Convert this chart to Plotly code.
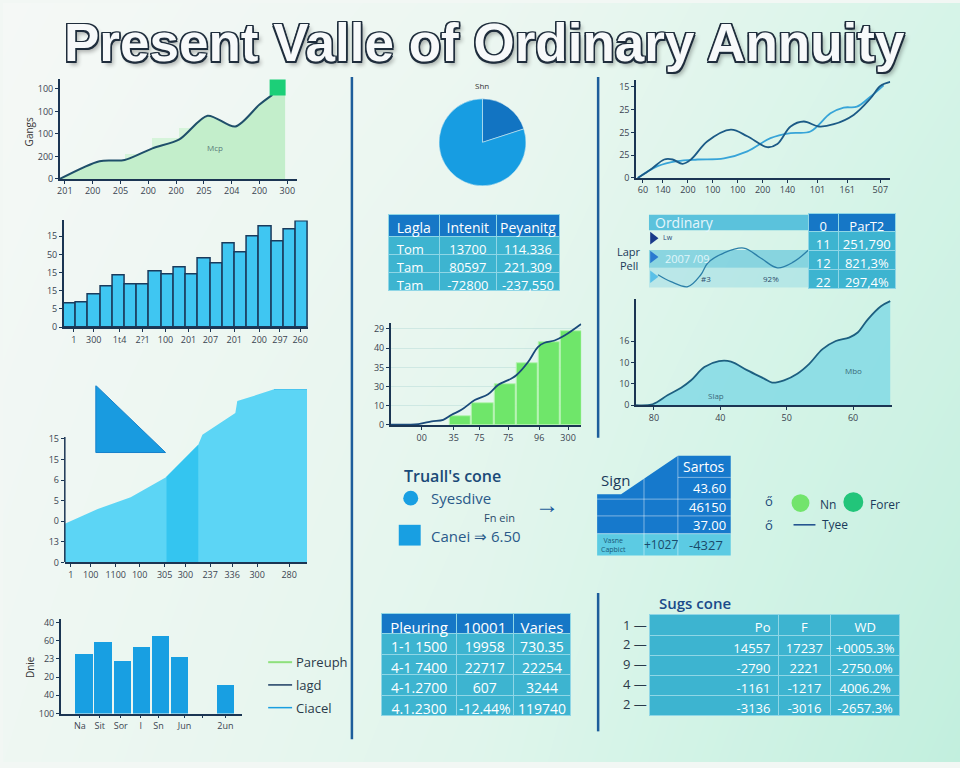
import plotly.graph_objects as go

W, H = 960, 768
NAVY = '#1b3553'
BLUE = '#189fe2'
DARK_BLUE = '#1677c6'
TEAL = '#3db4d0'
TEAL_LINE = '#8fd6e6'
FONT = 'Open Sans'
NB = '\u00a0'

title_text = 'Present Valle of Ordinary Annuity'

# background gradient (rows bottom -> top)
bg_z = [[0.15, 0.45, 1.0],
        [0.08, 0.35, 0.8],
        [0.0, 0.2, 0.6]]
bg_scale = [[0, '#f5f8f6'], [0.3, '#e8f6ef'], [0.6, '#d6f4e8'], [1, '#c2efde']]

# panel A - line with green area
a_x = [-0.18, 1.25, 2.15, 3.15, 4.12, 5.13, 6.13, 6.99, 7.46]
a_y = [0, 0.79, 0.84, 1.36, 1.76, 2.81, 2.33, 3.3, 3.74]
a_step_x = [2.65, 3.63, 4.6]
a_step_y = [1.1, 1.8, 2.24]
a_mark_x = [7.65]
a_mark_y = [4.07]
a_xticks = ['201', '200', '205', '200', '200', '205', '204', '200', '300']
a_yticks = ['0', '200', '100', '100', '100']

# panel B - bars
b_vals = [1.30, 1.34, 1.81, 2.24, 2.85, 2.34, 2.35, 3.04, 2.90, 3.26,
          2.91, 3.77, 3.48, 4.59, 4.10, 5.0, 5.53, 4.74, 5.38, 5.82]
b_tickpos = [0.32, 1.95, 4.07, 5.95, 7.83, 9.71, 11.5, 13.46, 15.5, 17.2, 18.85]
b_ticks = ['1', '300', '1t4', '2?1', '100', '201', '207', '201', '200', '297', '260']
b_yticks = ['0', '5', '15', '15', '50', '15']

# panel C - big cyan area
c_x = [0, 1.36, 2.72, 4.16, 5.51, 5.68, 7.04, 7.12, 8.64, 10]
c_y = [1.875, 2.6, 3.17, 4.13, 5.72, 6.2, 7.26, 7.84, 8.41, 8.41]
c_mid_x = [4.2, 5.51]
c_mid_y = [4.16, 5.72]
c_col_x = [9.32]
c_col_y = [8.41]
c_small_x = [1.97]
c_small_y = [0.87]
c_tri_x = [1.28, 1.28, 4.16, 1.28]
c_tri_y = [8.6, 5.34, 5.34, 8.6]
c_tickpos = [0.25, 1.07, 2.1, 3.09, 4.12, 4.98, 6.0, 6.91, 7.94, 9.26]
c_ticks = ['1', '100', '1100', '100', '305', '300', '237', '336', '300', '280']
c_yticks = ['0', '13', '0', '5', '6', '15', '15']

# panel D - bottom bars
d_x = [0, 1, 2, 3, 4, 5, 7.4]
d_y = [3.3, 3.93, 2.88, 3.66, 4.29, 3.1, 1.58]
d_tickpos = [-0.2, 0.83, 1.93, 2.97, 3.9, 5.26, 6.2, 7.4]
d_ticks = ['Na', 'Sit', 'Sor', 'I', 'Sn', 'Jun', '', '2un']
d_yticks = ['100', '40', '20', '23', '60', '40']
d_legend = ['Pareuph', 'lagd', 'Ciacel']
d_legend_col = ['#8ee07c', '#1d3d63', '#1a9ee0']

# pie
pie_labels = ['A', 'B']
pie_vals = [20, 80]

# table 1
t1_header = ['Lagla', 'Intenit', 'Peyanitg']
t1_c1 = ['Tom', 'Tam', 'Tam']
t1_c2 = ['13700', '80597', '-72800']
t1_c3 = ['114,336', '221,309', '-237,550']

# panel F - two lines
f_x1 = [0.07, 0.59, 1.11, 1.44, 1.83, 2.16, 2.81, 3.73, 4.38, 5.16, 5.56, 6.08, 6.60, 7.19, 7.78, 8.56, 9.22, 9.61, 10.0]
f_y1 = [0, 0.38, 0.81, 0.81, 0.62, 0.81, 1.61, 2.12, 1.83, 1.35, 1.49, 2.26, 2.48, 2.26, 2.36, 2.77, 3.49, 4.04, 4.22]
f_x2 = [0.07, 0.85, 1.63, 2.42, 3.46, 4.38, 5.29, 6.08, 6.86, 7.65, 8.17, 8.69, 9.22, 9.74]
f_y2 = [0, 0.52, 0.74, 0.81, 0.86, 1.17, 1.75, 1.97, 2.04, 2.84, 3.09, 3.13, 3.57, 4.07]
f_tickpos = [0.27, 1.06, 2.04, 3.02, 4.0, 4.98, 5.96, 7.14, 8.31, 9.61]
f_ticks = ['60', '140', '200', '100', '100', '200', '140', '101', '161', '507']
f_yticks = ['0', '25', '25', '25', '15']

# panel G - "Ordinary" strip
g_wave_x = [12, 25, 42, 55, 62, 78, 98, 115, 132, 148, 163]
g_wave_y = [17, 10, 5, 17, 29, 39, 44, 34, 24, 30, 42]
g_tri_y = [54, 35, 15]
g_tri_col = ['#1a3a8a', '#2a7ad0', '#5ac0e8']
tg_header = ['0', 'ParT2']
tg_c1 = ['11', '12', '22']
tg_c2 = ['251,790', '821,3%', '297,4%']

# panel H - area
h_x = [27.3, 29.8, 32.1, 34.1, 35.6, 37.6, 39.8, 41.6, 44.1, 46.6, 47.8,
       49.6, 51.6, 53.4, 55.4, 57.4, 59.4, 60.7, 62.2, 64.2, 65.6]
h_y = [0, 0.23, 2.37, 4.08, 5.83, 8.92, 10.3, 10.2, 8.13, 6.22, 5.3,
       5.83, 7.37, 9.68, 13.1, 15.0, 15.8, 17.0, 20.0, 23.1, 24.3]
h_tickpos = [30, 40, 50, 60]
h_ticks = ['80', '40', '50', '60']
h_yticks = ['0', '10', '10', '16']

# panel I - green bars with line
i_bar_x = [0, 1, 2, 3, 4, 5]
i_bar_y = [0.46, 1.13, 2.11, 3.2, 4.33, 4.9]
i_x = [-3.13, -1.9, -1.3, -0.78, -0.4, 0.04, 0.64, 1.24, 1.69, 2.29, 2.51, 3.04, 3.48, 3.78, 4.23, 4.68, 5.43]
i_y = [0.02, 0.05, 0.19, 0.27, 0.53, 0.79, 1.3, 1.6, 2.08, 2.42, 2.59, 3.28, 4.06, 4.28, 4.4, 4.66, 5.26]
i_tickpos = [-1.75, -0.31, 0.85, 2.15, 3.54, 4.84]
i_ticks = ['00', '35', '75', '75', '96', '300']
i_yticks = ['0', '10', '30', '35', '40', '29']

# sign table
s_head = 'Sartos'
s_vals = ['43.60', '46150', '37.00']
s_foot = ['+1027', '-4327']

# table M
tm_header = ['Pleuring', '10001', 'Varies']
tm_c1 = ['1-1 1500', '4-1 7400', '4-1.2700', '4.1.2300']
tm_c2 = ['19958', '22717', '607', '-12.44%']
tm_c3 = ['730.35', '22254', '3244', '119740']

# table N
tn_rows = ['1 —', '2 —', '9 —', '4 —', '2 —']
tn_header = ['Po', 'F', 'WD']
tn_c1 = ['14557', '-2790', '-1161', '-3136']
tn_c2 = ['17237', '2221', '-1217', '-3016']
tn_c3 = ['+0005.3%', '-2750.0%', '4006.2%', '-2657.3%']


def nb(col):
    # keep table cells on one line
    return [str(v).replace(' ', NB) for v in col]


fig = go.Figure()

axis_style = dict(showgrid=False, zeroline=False, showline=True, linecolor=NAVY, linewidth=1.5,
                  ticks='outside', ticklen=3, tickwidth=1, tickcolor=NAVY,
                  tickfont=dict(family=FONT, size=9, color='#3a4450'), fixedrange=True)


def xy(n):
    return dict(xaxis='x' if n == 1 else 'x%d' % n, yaxis='y' if n == 1 else 'y%d' % n)


def set_axes(n, left, right, top, bottom, xr, yr, xkw=None, ykw=None, visible=True):
    xa = dict(axis_style, domain=[left / W, right / W], range=xr, anchor='y' if n == 1 else 'y%d' % n)
    ya = dict(axis_style, domain=[1 - bottom / H, 1 - top / H], range=yr, anchor='x' if n == 1 else 'x%d' % n)
    if not visible:
        xa['visible'] = False
        ya['visible'] = False
    xa.update(xkw or {})
    ya.update(ykw or {})
    fig.update_layout(**{('xaxis' if n == 1 else 'xaxis%d' % n): xa,
                         ('yaxis' if n == 1 else 'yaxis%d' % n): ya})


def ticks(pos, text):
    return dict(tickmode='array', tickvals=pos, ticktext=text)


annotations = []
shapes = []


def ann(text, x, y, size=12, color='#2a3a4a', xanchor='center', weight='normal', family=FONT, **kw):
    annotations.append(dict(text=text, x=x / W, y=1 - y / H, xref='paper', yref='paper',
                            xanchor=xanchor, yanchor='middle', showarrow=False,
                            font=dict(size=size, color=color, family=family, weight=weight), **kw))


def pline(x0, y0, x1, y1, color, width=1.5):
    shapes.append(dict(type='line', xref='paper', yref='paper', x0=x0 / W, x1=x1 / W,
                       y0=1 - y0 / H, y1=1 - y1 / H, line=dict(color=color, width=width), layer='above'))


def prect(x0, y0, x1, y1, fill, kind='rect'):
    shapes.append(dict(type=kind, xref='paper', yref='paper', x0=x0 / W, x1=x1 / W,
                       y0=1 - y1 / H, y1=1 - y0 / H, fillcolor=fill, line=dict(width=0), layer='above'))


def pp(x, y):
    return '%.5f,%.5f' % (x / W, 1 - y / H)


# background
set_axes(1, 0, W, 0, H, [0, 1], [0, 1], visible=False)
fig.add_trace(go.Heatmap(z=bg_z, x=[0, 0.5, 1], y=[0, 0.5, 1], colorscale=bg_scale, zsmooth='best',
                         showscale=False, hoverinfo='skip', **xy(1)))

# ---- panel A ----
set_axes(2, 57, 295, 77, 178, [-0.18, 8.35], [0, 4.44],
         xkw=ticks(list(range(9)), a_xticks), ykw=ticks(list(range(5)), a_yticks))
fig.add_trace(go.Bar(x=a_step_x, y=a_step_y, width=0.98, marker=dict(color='#d6f4da', line=dict(width=0)), **xy(2)))
fig.add_trace(go.Scatter(x=a_x + [7.92], y=a_y + [3.74], mode='lines', line=dict(width=0, shape='spline'),
                         fill='tozeroy', fillcolor='#c3eecb', **xy(2)))
fig.add_trace(go.Scatter(x=a_x, y=a_y, mode='lines', line=dict(color='#1f4f6a', width=2, shape='spline', smoothing=0.8), **xy(2)))
fig.add_trace(go.Scatter(x=a_mark_x, y=a_mark_y, mode='markers',
                         marker=dict(symbol='square', size=16, color='#1ccf78'), **xy(2)))
ann('Gangs', 27, 130, size=10, color='#333', textangle=-90)
ann('Mcp', 213, 146, size=8, color='#5a7a7a')

# ---- panel B ----
set_axes(3, 61, 306, 220, 328, [-0.5, 19.5], [0, 5.87],
         xkw=ticks(b_tickpos, b_ticks), ykw=ticks(list(range(6)), b_yticks))
fig.add_trace(go.Bar(x=list(range(20)), y=b_vals, width=1,
                     marker=dict(color='#3fc6f2', line=dict(color='#1a3a5c', width=1.5)), **xy(3)))

# ---- panel C ----
set_axes(4, 62, 305, 387, 566, [0, 10], [0, 8.6],
         xkw=ticks(c_tickpos, c_ticks), ykw=dict(ticks(list(range(7)), c_yticks), showline=False))
shapes.append(dict(type='line', xref='x4 domain', yref='y4', x0=0, x1=0, y0=0, y1=6.1,
                   line=dict(color=NAVY, width=1.5), layer='above'))
fig.add_trace(go.Scatter(x=c_x, y=c_y, mode='lines', line=dict(width=0), fill='tozeroy',
                         fillcolor='#5cd5f5', **xy(4)))
fig.add_trace(go.Scatter(x=c_mid_x, y=c_mid_y, mode='lines', line=dict(width=0), fill='tozeroy',
                         fillcolor='#34c5f0', **xy(4)))
fig.add_trace(go.Bar(x=c_col_x, y=c_col_y, width=1.36, marker=dict(color='#1697dc', line=dict(width=0)), **xy(4)))
fig.add_trace(go.Bar(x=c_small_x, y=c_small_y, width=1.31, marker=dict(color='#38c0ed', line=dict(width=0)), **xy(4)))
fig.add_trace(go.Scatter(x=c_tri_x, y=c_tri_y, mode='lines', fill='toself', fillcolor='#199be0',
                         line=dict(color='#1682cc', width=1), **xy(4)))

# ---- panel D ----
set_axes(5, 58, 240, 623, 719, [-1.2, 8.28], [0, 5.2],
         xkw=ticks(d_tickpos, d_ticks), ykw=ticks(list(range(6)), d_yticks))
fig.add_trace(go.Bar(x=d_x, y=d_y, width=0.9, marker=dict(color='#189fe2', line=dict(width=0)), **xy(5)))
ann('Dnie', 27, 672, size=10, color='#333', textangle=-90)
for k, (lab, col) in enumerate(zip(d_legend, d_legend_col)):
    yy = 667 + 23 * k
    pline(266, yy, 290, yy, col, 2 if k == 0 else 1.5)
    ann(lab, 292, yy, size=13, color='#2a3a4a', xanchor='left')

# ---- pie ----
fig.add_trace(go.Pie(labels=pie_labels, values=pie_vals, sort=False, direction='clockwise', rotation=0,
                     marker=dict(colors=['#1274c2', '#179de2'], line=dict(color='#e6f4f2', width=0.5)),
                     textinfo='none', hoverinfo='skip', showlegend=False,
                     domain=dict(x=[435 / W, 527 / W], y=[1 - 185 / H, 1 - 97 / H])))
ann('Shn', 481, 83, size=8, color='#333')

# ---- table 1 ----
fig.add_trace(go.Table(
    domain=dict(x=[387 / W, 559 / W], y=[1 - 294 / H, 1 - 214 / H]),
    columnwidth=[51, 57, 64],
    header=dict(values=t1_header, fill_color=DARK_BLUE, line=dict(color=TEAL_LINE, width=1),
                font=dict(family=FONT, size=14, color='white'), align=['left', 'center', 'center'], height=22),
    cells=dict(values=[t1_c1, t1_c2, t1_c3], fill_color=TEAL, line=dict(color=TEAL_LINE, width=1),
               font=dict(family=FONT, size=13, color='white'), align=['left', 'center', 'center'], height=18)))

# ---- panel F ----
set_axes(6, 635, 890, 78, 177, [0, 10], [0, 4.3],
         xkw=ticks(f_tickpos, f_ticks), ykw=ticks(list(range(5)), f_yticks))
fig.add_trace(go.Scatter(x=f_x2, y=f_y2, mode='lines', line=dict(color='#37a4d8', width=1.8, shape='spline'), **xy(6)))
fig.add_trace(go.Scatter(x=f_x1, y=f_y1, mode='lines', line=dict(color='#1c5a86', width=1.8, shape='spline'), **xy(6)))

# ---- panel G ----
set_axes(7, 645, 808, 214, 292, [0, 163], [0, 78], visible=False)
for y0, y1, col in [(62, 78, '#5bc2dc'), (24, 42, 'rgba(70,185,215,0.55)'), (4, 24, 'rgba(120,205,225,0.35)')]:
    shapes.append(dict(type='rect', xref='x7', yref='y7', x0=3, x1=163, y0=y0, y1=y1,
                       fillcolor=col, line=dict(width=0), layer='below'))
fig.add_trace(go.Scatter(x=g_wave_x, y=g_wave_y, mode='lines', line=dict(color='#2b7fa8', width=1.3, shape='spline'), **xy(7)))
fig.add_trace(go.Scatter(x=[7, 7, 7], y=g_tri_y, mode='markers',
                         marker=dict(symbol='triangle-right', size=11, color=g_tri_col), **xy(7)))
ann('Ordinary', 652, 222, size=14, color='#e4f6fb', xanchor='left')
ann('Lw', 660, 237, size=7, color='#2a4a7a', xanchor='left')
ann('2007 /09', 662, 259, size=11, color='#e0f5fa', xanchor='left')
ann('#3', 705, 279, size=8, color='#2a4a6a')
ann('92%', 770, 279, size=8, color='#2a4a6a')
ann('Lapr', 628, 251, size=11, color='#1a3a5a')
ann('Pell', 628, 266, size=11, color='#1a3a5a')
fig.add_trace(go.Table(
    domain=dict(x=[808 / W, 896 / W], y=[1 - 292 / H, 1 - 213 / H]),
    columnwidth=[30, 58],
    header=dict(values=tg_header, fill_color=DARK_BLUE, line=dict(color=TEAL_LINE, width=1),
                font=dict(family=FONT, size=13, color='white'), align='center', height=18),
    cells=dict(values=[tg_c1, tg_c2], fill_color=TEAL, line=dict(color=TEAL_LINE, width=1),
               font=dict(family=FONT, size=13, color='white'), align='center', height=19)))

# ---- panel H ----
set_axes(8, 635, 892, 300, 407, [27.3, 65.9], [0, 24.7],
         xkw=ticks(h_tickpos, h_ticks), ykw=ticks([0, 5, 10, 15], h_yticks))
fig.add_trace(go.Scatter(x=h_x, y=h_y, mode='lines', line=dict(color='#1d5f80', width=1.8, shape='spline'),
                         fill='tozeroy', fillcolor='rgba(120,215,228,0.75)', **xy(8)))
ann('Slap', 715, 397, size=8, color='#3a6a7a')
ann('Mbo', 853, 372, size=8, color='#3a6a7a')

# ---- panel I ----
set_axes(9, 389, 580, 324, 427, [-3.14, 5.43], [0, 5.3],
         xkw=ticks(i_tickpos, i_ticks),
         ykw=dict(ticks(list(range(6)), i_yticks), showgrid=True, gridcolor='rgba(150,200,200,0.3)'))
fig.add_trace(go.Bar(x=i_bar_x, y=i_bar_y, width=0.95,
                     marker=dict(color='#6fe66a', line=dict(color='#b5f3b2', width=1)), **xy(9)))
fig.add_trace(go.Scatter(x=i_x, y=i_y, mode='lines', line=dict(color='#1a4a7a', width=1.8, shape='spline'), **xy(9)))

# ---- legend J ----
ann("Truall's cone", 400, 479, size=16, color='#1a4a78', xanchor='left', weight=600)
prect(401.5, 493.5, 416.5, 508.5, BLUE, kind='circle')
ann('Syesdive', 427, 501, size=15, color='#2a5a8a', xanchor='left')
ann('Fn ein', 498, 521, size=11, color='#2a4a6a')
prect(397, 528, 419, 549, BLUE)
ann('Canei ⇒ 6.50', 427, 539, size=15, color='#2a5a8a', xanchor='left')
ann('→', 546, 506, size=24, color='#1a5a9a')

# ---- sign table ----
shapes.append(dict(type='path', xref='paper', yref='paper', layer='above',
                   path='M %s L %s L %s L %s L %s L %s Z' % (pp(596, 497), pp(620, 497), pp(677, 458),
                                                           pp(730, 458), pp(730, 537), pp(596, 537)),
                   fillcolor='#1679cc', line=dict(width=0)))
prect(596, 537, 730, 559, '#5ccbe3')
grid_col = 'rgba(255,255,255,0.45)'
pline(643, 481, 643, 559, grid_col, 1)
pline(677, 458, 677, 559, grid_col, 1)
pline(677, 480, 730, 480, grid_col, 1)
for yy in [502, 519, 537]:
    pline(596, yy, 730, yy, grid_col, 1)
ann('Sign', 598, 483, size=15, color='#1a3a5a', xanchor='left')
ann(s_head, 703, 469, size=14, color='white')
for k, v in enumerate(s_vals):
    ann(v, 727, [491, 510, 528][k], size=13, color='white', xanchor='right')
ann('Vasne<br>Capbict', 598, 548, size=7, color='#1a5a7a', xanchor='left')
ann(s_foot[0], 660, 548, size=12, color='#1a4a6a')
ann(s_foot[1], 705, 548, size=13, color='#1a4a6a')

# ---- legend L ----
ann('ő', 768, 504, size=13, color='#1a4a7a')
ann('ő', 768, 528, size=13, color='#1a4a7a')
prect(791, 497, 809, 515, '#72e46c', kind='circle')
ann('Nn', 818, 507, size=12, color='#1a3a5a', xanchor='left')
prect(843, 495, 863, 515, '#22c57a', kind='circle')
ann('Forer', 868, 507, size=12, color='#1a3a5a', xanchor='left')
pline(793, 528, 815, 528, '#1a4a8a', 1.5)
ann('Tyee', 820, 528, size=12, color='#1a3a5a', xanchor='left')

# ---- table M ----
fig.add_trace(go.Table(
    domain=dict(x=[380 / W, 570 / W], y=[1 - 724 / H, 1 - 618 / H]),
    columnwidth=[75, 57, 58],
    header=dict(values=tm_header, fill_color=DARK_BLUE, line=dict(color=TEAL_LINE, width=1),
                font=dict(family=FONT, size=15, color='white'), align='center', height=20),
    cells=dict(values=[nb(tm_c1), nb(tm_c2), nb(tm_c3)], fill_color=TEAL, line=dict(color=TEAL_LINE, width=1),
               font=dict(family=FONT, size=14, color='white'), align='center', height=20.5)))

# ---- table N ----
ann('Sugs cone', 656, 607, size=15, color='#1a4a8a', xanchor='left', weight=600)
for k, lab in enumerate(tn_rows):
    ann(lab, 648, 629 + 20 * k, size=13, color='#2a3a4a', xanchor='right')
fig.add_trace(go.Table(
    domain=dict(x=[649 / W, 900 / W], y=[1 - 724 / H, 1 - 619 / H]),
    columnwidth=[129, 52, 70],
    header=dict(values=tn_header, fill_color=TEAL, line=dict(color=TEAL_LINE, width=1),
                font=dict(family=FONT, size=13, color='white'), align=['right', 'center', 'center'], height=21),
    cells=dict(values=[tn_c1, tn_c2, tn_c3], fill_color=TEAL, line=dict(color=TEAL_LINE, width=1),
               font=dict(family=FONT, size=13, color='white'), align=['right', 'center', 'center'], height=20)))

# dividers
pline(350, 75, 350, 745, '#1d5d9b', 2.5)
pline(597, 75, 597, 440, '#1d5d9b', 2.5)
pline(597, 597, 597, 737, '#1d5d9b', 2.5)

# title
outline = '#1f2d3c'
shadow = ', '.join(['%gpx %gpx 0 %s' % (dx, dy, outline)
                    for dx, dy in [(-1.5, -1.5), (1.5, -1.5), (-1.5, 1.5), (1.5, 1.5),
                                   (0, 1.5), (0, -1.5), (1.5, 0), (-1.5, 0)]])
shadow += ', 3px 4px 4px rgba(0,0,0,0.3)'
annotations.append(dict(text=title_text, x=483 / W, y=1 - 40 / H, xref='paper', yref='paper',
                        showarrow=False, xanchor='center', yanchor='middle',
                        font=dict(family='Liberation Sans', size=53, color='#f7f9fa', weight='bold', shadow=shadow)))

fig.update_layout(width=W, height=H, margin=dict(l=0, r=0, t=0, b=0),
                  paper_bgcolor='#f2f7f4', plot_bgcolor='rgba(0,0,0,0)',
                  showlegend=False, bargap=0, annotations=annotations, shapes=shapes)

fig.write_html('out.html', config={'displaylogo': False, 'displayModeBar': False},
               post_script="document.body.style.margin='0';")
